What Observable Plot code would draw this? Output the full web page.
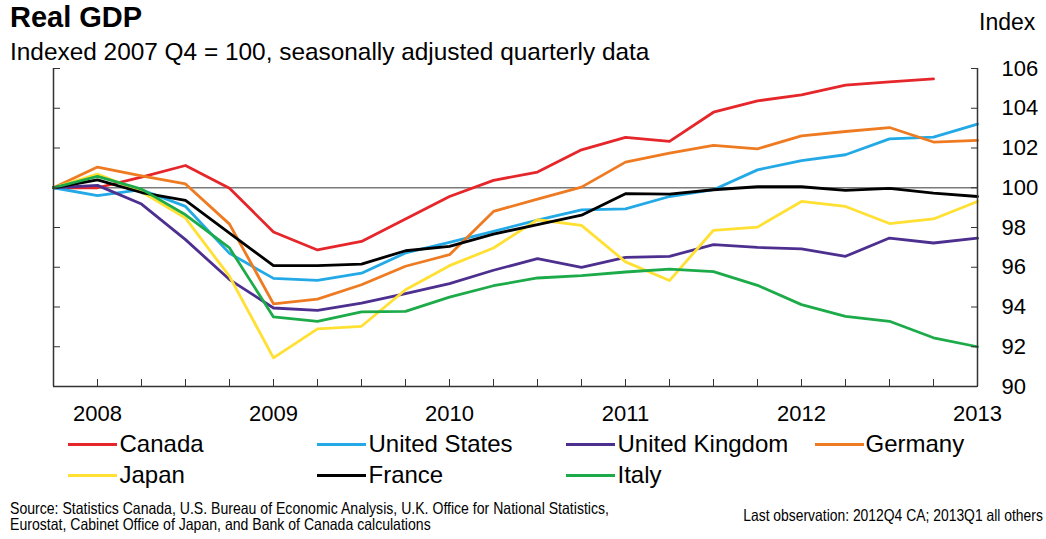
<!DOCTYPE html>
<html>
<head>
<meta charset="utf-8">
<script src="https://cdn.jsdelivr.net/npm/d3@7"></script>
<script src="https://cdn.jsdelivr.net/npm/@observablehq/plot@0.6"></script>
<style>
  html, body { margin: 0; padding: 0; background: #fff; }
  #wrap { position: relative; width: 1046px; height: 539px; overflow: hidden; font-family: "Liberation Sans", Arial, sans-serif; color: #000; }
  .abs { position: absolute; white-space: nowrap; line-height: 1; }
  #chart { position: absolute; left: 0; top: 0; }
  .sw { position: absolute; height: 3px; }
  .narrow { font-family: "Liberation Sans Narrow", "Arial Narrow", "Liberation Sans", sans-serif; }
</style>
</head>
<body>
<div id="wrap">
  <div id="chart"></div>
  <div class="abs" style="left:10px; top:3px; font-size:29px; font-weight:bold;">Real GDP</div>
  <div class="abs" style="left:10px; top:40px; font-size:24.4px;">Indexed 2007 Q4 = 100, seasonally adjusted quarterly data</div>
  <div class="abs" style="left:979px; top:11px; font-size:23px;">Index</div>
  <div id="legend"></div>
  <div class="abs narrow" style="left:10px; top:500px; font-size:16.5px; line-height:16px; transform:scaleX(0.853); transform-origin:0 0;">Source: Statistics Canada, U.S. Bureau of Economic Analysis, U.K. Office for National Statistics,<br>Eurostat, Cabinet Office of Japan, and Bank of Canada calculations</div>
  <div class="abs narrow" style="right:3px; top:507px; font-size:16.5px; transform:scaleX(0.842); transform-origin:100% 0;">Last observation: 2012Q4 CA; 2013Q1 all others</div>
</div>
<script>
// ---- data ----
const quarters = ["2007Q4","2008Q1","2008Q2","2008Q3","2008Q4","2009Q1","2009Q2","2009Q3","2009Q4",
  "2010Q1","2010Q2","2010Q3","2010Q4","2011Q1","2011Q2","2011Q3","2011Q4","2012Q1","2012Q2","2012Q3","2012Q4","2013Q1"];
const countries = ["Canada","United States","United Kingdom","Germany","Japan","France","Italy"];
const colors = ["#e5262b","#22a9e6","#4d2f8f","#ee7b22","#ffe033","#000000","#1dab4a"];
const canada  = [100,100.0,100.54,101.12,99.98,97.77,96.87,97.3,98.43,99.56,100.37,100.79,101.91,102.53,102.33,103.8,104.37,104.67,105.16,105.33,105.48,null];
const unitedStates = [100,99.6,99.9,99.06,96.7,95.44,95.34,95.7,96.72,97.25,97.81,98.37,98.89,98.94,99.56,99.9,100.9,101.37,101.66,102.46,102.55,103.2];
const unitedKingdom = [100,100.12,99.18,97.39,95.38,93.95,93.83,94.2,94.67,95.18,95.85,96.43,95.99,96.5,96.55,97.14,97.0,96.92,96.55,97.47,97.22,97.47];
const germany = [100,101.04,100.6,100.19,98.17,94.16,94.4,95.12,96.05,96.63,98.81,99.43,100.03,101.29,101.74,102.13,101.96,102.61,102.83,103.03,102.3,102.38];
const japan   = [100,100.69,99.8,98.47,95.54,91.44,92.9,93.03,94.87,96.08,96.97,98.39,98.11,96.27,95.33,97.86,98.02,99.31,99.06,98.2,98.43,99.31];
const france  = [100,100.4,99.76,99.36,97.72,96.08,96.08,96.16,96.83,97.05,97.67,98.14,98.62,99.7,99.68,99.9,100.05,100.05,99.87,99.97,99.73,99.56];
const italy   = [100,100.57,99.93,98.64,96.97,93.5,93.28,93.75,93.78,94.5,95.07,95.46,95.58,95.76,95.91,95.78,95.09,94.12,93.53,93.28,92.45,92.0];
const xTickQuarters = ["2008Q1","2009Q1","2010Q1","2011Q1","2012Q1","2013Q1"];
const xTickLabels = ["2008","2009","2010","2011","2012","2013"];
const yTicks = [90,92,94,96,98,100,102,104,106];
const yDomain = [90,106];
const baseline = [100];

// ---- table ----
const series = [canada, unitedStates, unitedKingdom, germany, japan, france, italy];
const rows = [];
series.forEach((vals, k) => vals.forEach((v, i) => {
  if (v != null) rows.push({quarter: quarters[i], country: countries[k], value: v});
}));
const labelMap = new Map(xTickQuarters.map((q, i) => [q, xTickLabels[i]]));
const axisColor = "#333";

const chart = Plot.plot({
  width: 1046, height: 430,
  marginTop: 68, marginBottom: 44, marginLeft: 53, marginRight: 69,
  style: {fontFamily: "'Liberation Sans', Arial, sans-serif", fontSize: "22px", color: "#000", background: "transparent", overflow: "visible"},
  x: {type: "point", domain: quarters, padding: 0},
  y: {domain: yDomain},
  color: {domain: countries, range: colors},
  marks: [
    Plot.ruleY(baseline, {stroke: "#7a7a7a", strokeWidth: 1.3}),
    Plot.line(rows, {x: "quarter", y: "value", z: "country", stroke: "country", strokeWidth: 2.8}),
    Plot.ruleX([quarters[0], quarters[quarters.length - 1]], {stroke: axisColor, strokeWidth: 1.5}),
    Plot.ruleY([yDomain[0]], {stroke: axisColor, strokeWidth: 1.5}),
    Plot.axisX({ticks: quarters, tickSize: -7, tickPadding: 26, tickFormat: q => labelMap.get(q) ?? "", label: null, stroke: axisColor, fill: "#000", fontSize: 22}),
    Plot.axisY({anchor: "left", ticks: yTicks, tickSize: -7, tickFormat: () => "", label: null, stroke: axisColor}),
    Plot.axisY({anchor: "right", ticks: yTicks, tickSize: -7, tickPadding: 31, textAnchor: "start", label: null, stroke: axisColor, fill: "#000", fontSize: 22})
  ]
});
document.getElementById("chart").appendChild(chart);

// ---- legend ----
const legend = document.getElementById("legend");
const swX = [68, 317, 566, 815];
const txX = [119.5, 368.5, 617.5, 865.5];
const rowSwY = [443, 474];
const rowTxTop = [432, 463];
countries.forEach((c, k) => {
  const row = k < 4 ? 0 : 1;
  const col = k < 4 ? k : k - 4;
  const sw = document.createElement("div");
  sw.className = "sw";
  sw.style.left = swX[col] + "px";
  sw.style.width = "49px";
  sw.style.top = rowSwY[row] + "px";
  sw.style.background = colors[k];
  legend.appendChild(sw);
  const t = document.createElement("div");
  t.className = "abs";
  t.style.left = txX[col] + "px";
  t.style.top = rowTxTop[row] + "px";
  t.style.fontSize = "24px";
  t.textContent = c;
  legend.appendChild(t);
});
</script>
</body>
</html>
